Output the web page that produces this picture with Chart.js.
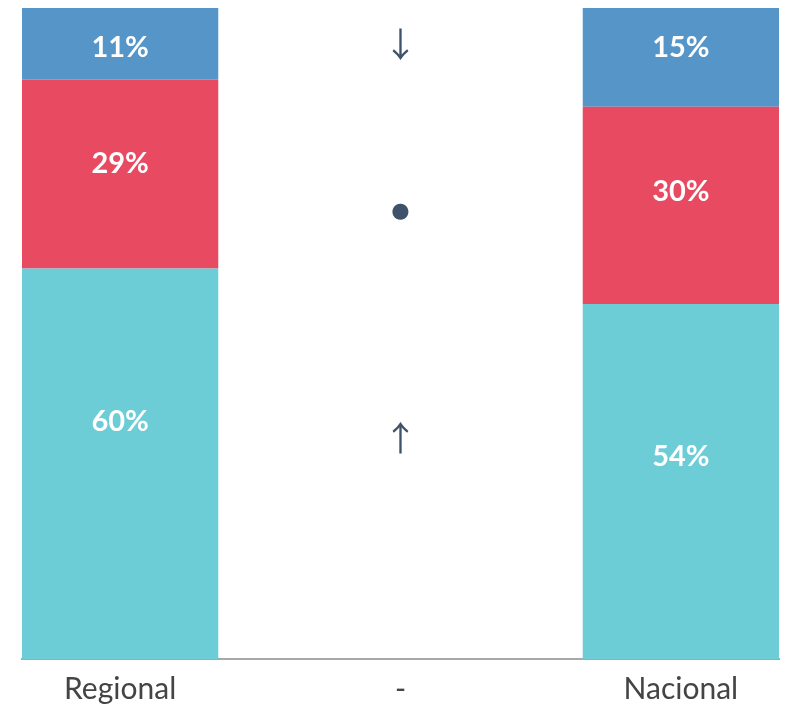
<!DOCTYPE html>
<html>
<head>
<meta charset="utf-8">
<script src="https://cdn.jsdelivr.net/npm/chart.js@4.4.0/dist/chart.umd.min.js"></script>
<style>
  html, body { margin: 0; padding: 0; background: #ffffff; }
  #wrap { width: 792px; height: 706px; }
</style>
</head>
<body>
<div id="wrap"><canvas id="c" width="792" height="706"></canvas></div>
<script>
// ---- data ----
const categories = ['Regional', '-', 'Nacional'];
const seriesNames = ['Baixo', 'Médio', 'Alto'];
const regionalValues = [60, 29, 11];
const nacionalValues = [54, 30, 15];
// where the value labels sit, in percent-of-bar units
const regionalLabelAt = [36.6, 76.3, 94.0];
const nacionalLabelAt = [31.3, 72.0, 94.0];
const middleSymbols = ['↑', '●', '↓'];
const middleSymbolAt = [33.9, 68.7, 94.5];

const colors = ['#6ccdd6', '#e84a62', '#5595c8'];

const totals = [
  regionalValues.reduce((a, b) => a + b, 0),
  nacionalValues.reduce((a, b) => a + b, 0)
];

const datasets = seriesNames.map((name, i) => ({
  label: name,
  data: [
    { x: 0, y: regionalValues[i] / totals[0] * 100, raw: regionalValues[i], at: regionalLabelAt[i] },
    { x: 2, y: nacionalValues[i] / totals[1] * 100, raw: nacionalValues[i], at: nacionalLabelAt[i] }
  ],
  backgroundColor: colors[i],
  borderWidth: 0,
  barPercentage: 0.7,
  categoryPercentage: 1.0
}));

const labelPlugin = {
  id: 'labels',
  afterDatasetsDraw(chart) {
    const ctx = chart.ctx;
    const xs = chart.scales.x, ys = chart.scales.y;
    ctx.save();
    ctx.textAlign = 'center';
    ctx.textBaseline = 'middle';
    ctx.fillStyle = '#ffffff';
    ctx.font = 'bold 29px Lato';
    chart.data.datasets.forEach((ds, di) => {
      const meta = chart.getDatasetMeta(di);
      meta.data.forEach((el, j) => {
        const cy = ys.getPixelForValue(ds.data[j].at);
        ctx.fillText(ds.data[j].raw + '%', el.x, cy + 1);
      });
    });
    // middle symbols
    const cx = xs.getPixelForValue(1);
    ctx.fillStyle = '#3f526b';
    middleSymbols.forEach((s, i) => {
      const y = ys.getPixelForValue(middleSymbolAt[i]);
      ctx.font = s === '●' ? '21px "DejaVu Sans"' : '34px "Noto Sans CJK SC"';
      ctx.fillText(s, cx, y);
    });
    ctx.restore();
  }
};

new Chart(document.getElementById('c'), {
  type: 'bar',
  data: { datasets },
  options: {
    responsive: false,
    animation: false,
    devicePixelRatio: 1,
    layout: { padding: { left: 22, right: 13, top: 8, bottom: -13 } },
    plugins: { legend: { display: false }, tooltip: { enabled: false } },
    scales: {
      x: {
        type: 'linear',
        stacked: true,
        offset: false,
        min: -0.35,
        max: 2.35,
        grid: { display: false, drawTicks: false },
        border: { display: true, color: '#a8a8a8', width: 2 },
        ticks: {
          stepSize: 1,
          includeBounds: false,
          autoSkip: false,
          maxRotation: 0,
          padding: 12,
          color: '#444444',
          font: { family: 'Lato', size: 30 },
          callback: (v) => (Number.isInteger(v) && categories[v] !== undefined) ? categories[v] : ''
        }
      },
      y: {
        stacked: true,
        display: false,
        min: 0,
        max: 100
      }
    }
  },
  plugins: [labelPlugin]
});
</script>
</body>
</html>
